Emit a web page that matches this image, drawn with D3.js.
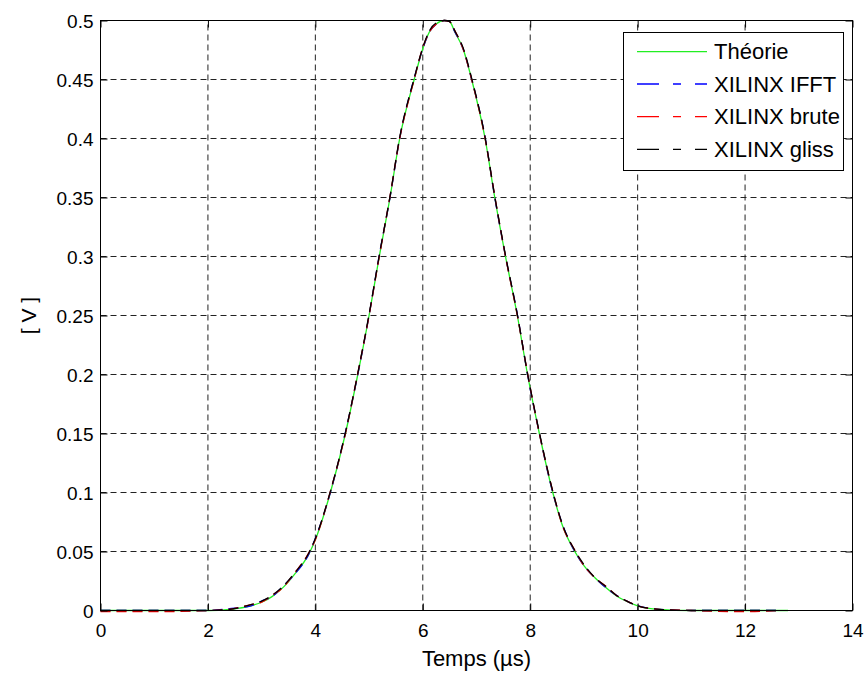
<!DOCTYPE html>
<html><head><meta charset="utf-8">
<script src="https://cdn.jsdelivr.net/npm/d3@7"></script>
<style>body{margin:0;background:#fff}svg{display:block}text{font-family:"Liberation Sans",Arial,sans-serif;fill:#000}</style>
</head><body><svg id="c" width="867" height="675"></svg>
<script>
const xTicks = [0,2,4,6,8,10,12,14];
const yTicks = [0,0.05,0.1,0.15,0.2,0.25,0.3,0.35,0.4,0.45,0.5];
const seriesNames = ["Théorie","XILINX IFFT","XILINX brute","XILINX gliss"];
const seriesColors = ["#22ee22","#0000ff","#ff0000","#000000"];

const tTheorie = [0,1,2,2.4,2.8,3.0,3.2,3.41,3.6,3.88,4.0,4.28,4.56,4.79,5.0,5.19,5.39,5.57,5.84,6.0,6.12,6.25,6.4,6.5,6.6,6.75,6.91,7.16,7.34,7.54,7.76,7.95,8.17,8.42,8.6,8.83,9.0,9.2,9.42,9.6,9.8,10.0,10.4,11,12,12.8];
const vTheorie = [0,0,0,0.001,0.004,0.007,0.012,0.02,0.03,0.048,0.06,0.1,0.15,0.2,0.25,0.3,0.35,0.4,0.45,0.476,0.49,0.497,0.5,0.499,0.49,0.476,0.45,0.4,0.35,0.3,0.25,0.2,0.15,0.1,0.072,0.05,0.038,0.028,0.019,0.0125,0.0076,0.004,0.001,0,0,0];

const tXilinx = [0,1,2,2.4,2.8,3.0,3.2,3.41,3.6,3.88,4.0,4.28,4.56,4.79,5.0,5.19,5.39,5.57,5.84,6.0,6.12,6.25,6.4,6.5,6.6,6.75,6.91,7.16,7.34,7.54,7.76,7.95,8.17,8.42,8.6,8.83,9.0,9.2,9.42,9.6,9.8,10.0,10.4,11,12,12.6];
const vIFFT  = [0,0,0,0.0015,0.004,0.008,0.012,0.021,0.03,0.048,0.061,0.1,0.151,0.2,0.25,0.301,0.35,0.4,0.451,0.476,0.49,0.497,0.5,0.499,0.49,0.476,0.45,0.401,0.35,0.3,0.251,0.2,0.15,0.1,0.073,0.05,0.038,0.028,0.019,0.013,0.008,0.004,0.001,0,0,0];
const vBrute = [-0.001,-0.001,0,0.001,0.005,0.007,0.013,0.02,0.031,0.049,0.06,0.101,0.15,0.201,0.25,0.3,0.351,0.4,0.45,0.477,0.49,0.497,0.5,0.499,0.491,0.476,0.45,0.4,0.351,0.3,0.25,0.201,0.15,0.101,0.072,0.051,0.038,0.028,0.02,0.013,0.008,0.004,0.001,0,-0.001,0];
const vGliss = [0,0,0,0.001,0.005,0.008,0.013,0.021,0.031,0.049,0.061,0.101,0.151,0.201,0.251,0.301,0.351,0.401,0.451,0.477,0.491,0.498,0.5,0.499,0.491,0.477,0.451,0.401,0.351,0.301,0.251,0.201,0.151,0.101,0.073,0.051,0.039,0.028,0.02,0.013,0.008,0.004,0.001,0,0,0];

const svg = d3.select("#c");
const L=100.5, R=852.5, T=20.5, B=610.5;
const x = d3.scaleLinear().domain([0,14]).range([L,R]);
const y = d3.scaleLinear().domain([0,0.5]).range([B,T]);

// grid
const grid = svg.append("g");
grid.selectAll("line.vx").data(xTicks.slice(1,-1)).join("line")
  .attr("x1",d=>x(d)).attr("x2",d=>x(d)).attr("y1",B).attr("y2",T)
  .attr("stroke","#222").attr("stroke-width",1).attr("stroke-dasharray","6,4");
grid.selectAll("line.hy").data(yTicks.slice(1,-1)).join("line")
  .attr("x1",L).attr("x2",R).attr("y1",d=>y(d)).attr("y2",d=>y(d))
  .attr("stroke","#222").attr("stroke-width",1).attr("stroke-dasharray","6,4");

// curves
const line = d3.line().curve(d3.curveMonotoneX);
const seriesData = [
  [tTheorie, vTheorie],
  [tXilinx, vIFFT],
  [tXilinx, vBrute],
  [tXilinx, vGliss]
];
seriesData.forEach((s,i)=>{
  const pts = s[0].map((t,k)=>[x(t), y(s[1][k])]);
  svg.append("path").attr("d", line(pts)).attr("fill","none")
    .attr("stroke", seriesColors[i]).attr("stroke-width",1.3)
    .attr("stroke-dasharray", i===0 ? null : "10,6");
});

// axes box
svg.append("rect").attr("x",L).attr("y",T).attr("width",R-L).attr("height",B-T)
  .attr("fill","none").attr("stroke","#000").attr("stroke-width",1);

// axes with inward ticks
const xb = svg.append("g").attr("transform",`translate(0,${B})`)
  .call(d3.axisBottom(x).tickValues(xTicks).tickSize(-7).tickFormat(d3.format("d")));
const xt = svg.append("g").attr("transform",`translate(0,${T})`)
  .call(d3.axisTop(x).tickValues(xTicks).tickSize(-7).tickFormat(""));
const yl = svg.append("g").attr("transform",`translate(${L},0)`)
  .call(d3.axisLeft(y).tickValues(yTicks).tickSize(-7).tickFormat(d=>d3.format("")(+d.toFixed(2))));
const yr = svg.append("g").attr("transform",`translate(${R},0)`)
  .call(d3.axisRight(y).tickValues(yTicks).tickSize(-7).tickFormat(""));
[xb,xt,yl,yr].forEach(g=>{g.select(".domain").remove();g.selectAll("line").attr("stroke","#000");});
xb.selectAll("text").attr("font-size",19).attr("font-family","Liberation Sans, Arial").attr("y",null).attr("dy",null).attr("transform","translate(0,26)").attr("fill","#000");
yl.selectAll("text").attr("font-size",19).attr("font-family","Liberation Sans, Arial").attr("x",-7).attr("dy","0.35em").attr("fill","#000");

// labels
svg.append("text").attr("x",(L+R)/2).attr("y",666).attr("text-anchor","middle").attr("font-size",22).text("Temps (µs)");
svg.append("text").attr("transform",`translate(36,${(T+B)/2}) rotate(-90)`).attr("text-anchor","middle").attr("font-size",21).text("[ V ]");

// legend
const lg = svg.append("g");
lg.append("rect").attr("x",623.5).attr("y",32.5).attr("width",220).attr("height",138).attr("fill","#fff").attr("stroke","#000");
const rowY = [51.7,84,116.7,149.3];
seriesNames.forEach((n,i)=>{
  lg.append("line").attr("x1",637).attr("x2",707).attr("y1",rowY[i]).attr("y2",rowY[i])
    .attr("stroke",seriesColors[i]).attr("stroke-width",1.3)
    .attr("stroke-dasharray", i===0?null:"22,14,8,14,12");
  lg.append("text").attr("x",714).attr("y",rowY[i]).attr("dy","0.35em").attr("font-size",22).text(n);
});
</script></body></html>
